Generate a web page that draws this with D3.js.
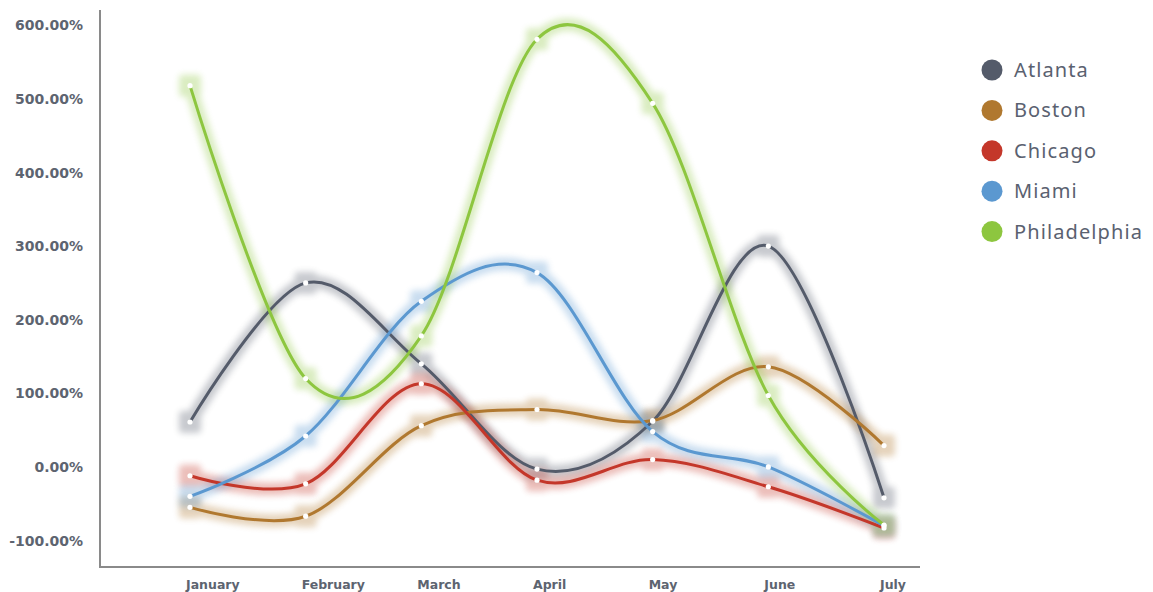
<!DOCTYPE html>
<html>
<head>
<meta charset="utf-8">
<script src="https://cdn.jsdelivr.net/npm/d3@7"></script>
<style>
  html, body { margin: 0; padding: 0; background: #fff; }
  svg { display: block; }
</style>
</head>
<body>
<svg id="chart" width="1153" height="592"></svg>
<script>
// Monthly change by city, in percent
const months = ["January", "February", "March", "April", "May", "June", "July"];
const cities = ["Atlanta", "Boston", "Chicago", "Miami", "Philadelphia"];
const colors = ["#545b6a", "#b0782f", "#c4372a", "#5b98d0", "#8dc63f"];
const atlanta      = [61, 250, 140, -3, 62, 300, -42];
const boston       = [-55, -67, 56, 78, 63, 136, 29];
const chicago      = [-12, -23, 113, -18, 10, -27, -83];
const miami        = [-40, 42, 225, 264, 48, 0, -80];
const philadelphia = [518, 120, 178, 581, 494, 97, -79];
const yTicks = [-100, 0, 100, 200, 300, 400, 500, 600];

const series = [atlanta, boston, chicago, miami, philadelphia];

const svg = d3.select("#chart");
const x = d3.scalePoint().domain(months).range([190, 884]);
const y = d3.scaleLinear().domain([-100, 600]).range([540.5, 25.3]);

const defs = svg.append("defs");
defs.append("filter").attr("id", "halo")
  .attr("x", "-20%").attr("y", "-20%").attr("width", "140%").attr("height", "140%")
  .append("feGaussianBlur").attr("stdDeviation", 3.2);

const tickFont = "'DejaVu Sans', sans-serif";
const textColor = "#5d6470";
const pct = d3.formatLocale({ decimal: ".", thousands: ",", grouping: [3], currency: ["", ""], minus: "-" }).format(".2f");

// y tick labels
svg.append("g").selectAll("text").data(yTicks).join("text")
  .attr("x", 83).attr("y", d => y(d))
  .attr("dy", "0.36em")
  .attr("text-anchor", "end")
  .attr("font-family", tickFont).attr("font-weight", "bold")
  .attr("font-size", 14).attr("fill", textColor)
  .text(d => pct(d) + "%");

// x tick labels
svg.append("g").selectAll("text").data(months).join("text")
  .attr("x", d => x(d) - 4).attr("y", 589)
  .attr("text-anchor", "start")
  .attr("font-family", tickFont).attr("font-weight", "bold")
  .attr("font-size", 12.5).attr("fill", textColor)
  .text(d => d);

// axis lines
svg.append("line").attr("x1", 100).attr("x2", 100).attr("y1", 10).attr("y2", 567)
  .attr("stroke", "#8a8a8a").attr("stroke-width", 2);
svg.append("line").attr("x1", 99).attr("x2", 920).attr("y1", 567).attr("y2", 567)
  .attr("stroke", "#8a8a8a").attr("stroke-width", 2);

const line = d3.line()
  .x((d, i) => x(months[i]))
  .y(d => y(d))
  .curve(d3.curveCardinal.tension(0));

const plot = svg.append("g");

series.forEach((vals, k) => {
  const g = plot.append("g");
  // soft glow under the line
  const glow = g.append("g").attr("filter", "url(#halo)").attr("opacity", 0.32);
  glow.append("path").attr("d", line(vals))
    .attr("fill", "none").attr("stroke", colors[k]).attr("stroke-width", 13)
    .attr("stroke-linecap", "round");
  glow.selectAll("rect").data(vals).join("rect")
    .attr("x", (d, i) => x(months[i]) - 11).attr("y", d => y(d) - 11)
    .attr("width", 22).attr("height", 22).attr("rx", 4)
    .attr("fill", colors[k]);
});

series.forEach((vals, k) => {
  plot.append("path").attr("d", line(vals))
    .attr("fill", "none").attr("stroke", colors[k]).attr("stroke-width", 3);
});

series.forEach((vals) => {
  plot.append("g").selectAll("circle").data(vals).join("circle")
    .attr("cx", (d, i) => x(months[i])).attr("cy", d => y(d))
    .attr("r", 2.6).attr("fill", "#fff");
});

// legend
const legend = svg.append("g").selectAll("g").data(cities).join("g")
  .attr("transform", (d, i) => `translate(992, ${70 + i * 40.4})`);
legend.append("circle").attr("r", 10.5).attr("fill", (d, i) => colors[i]);
legend.append("text").attr("x", 22).attr("dy", "0.35em")
  .attr("font-family", "'Noto Sans', 'Open Sans', sans-serif")
  .attr("font-size", 20).attr("letter-spacing", 1.1).attr("fill", "#5a6170")
  .text(d => d);
</script>
</body>
</html>
